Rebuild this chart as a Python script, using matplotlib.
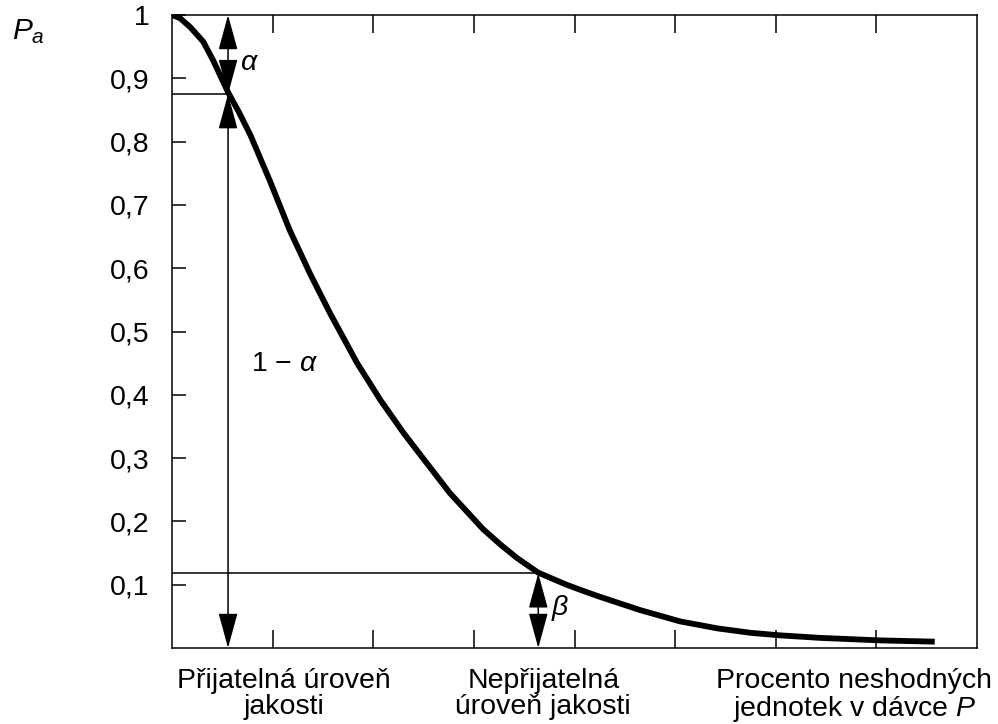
import matplotlib
matplotlib.use("Agg")
import matplotlib.pyplot as plt

plt.rcParams['font.family'] = ['Liberation Sans', 'DejaVu Sans']
plt.rcParams['mathtext.fontset'] = 'custom'
plt.rcParams['mathtext.rm'] = 'Liberation Sans'
plt.rcParams['mathtext.it'] = 'Liberation Sans:italic'

# OC curve (x in tick units, y = Pa)
curve_x = [0.0, 0.08, 0.18, 0.31, 0.41, 0.557, 0.67, 0.78, 0.97, 1.17, 1.37, 1.57, 1.84,
           2.07, 2.30, 2.44, 2.76, 3.09, 3.26, 3.43, 3.64, 3.92, 4.09, 4.25, 4.65,
           5.05, 5.42, 5.75, 6.04, 6.44, 7.04, 7.58]
curve_y = [1.0, 0.995, 0.981, 0.958, 0.928, 0.878, 0.845, 0.810, 0.739, 0.660, 0.592, 0.529,
           0.450, 0.392, 0.340, 0.311, 0.245, 0.188, 0.164, 0.142, 0.119, 0.100, 0.090, 0.081,
           0.060, 0.042, 0.031, 0.024, 0.020, 0.016, 0.012, 0.010]

aql, pa_aql = 0.557, 0.875
ltpd, pa_ltpd = 3.64, 0.118

y_ticks = [0.1, 0.2, 0.3, 0.4, 0.5, 0.6, 0.7, 0.8, 0.9, 1.0]
y_labels = ['0,1', '0,2', '0,3', '0,4', '0,5', '0,6', '0,7', '0,8', '0,9', '1']
x_ticks = [1, 2, 3, 4, 5, 6, 7]

fs = 20.5

fig = plt.figure(figsize=(9.98, 7.24), dpi=100)
ax = fig.add_axes([172 / 998, 1 - 648 / 724, 805 / 998, 633 / 724])

ax.plot(curve_x, curve_y, color='black', lw=4.2, solid_joinstyle='round',
        solid_capstyle='butt')

# reference lines
ax.plot([0, aql], [pa_aql, pa_aql], color='black', lw=1.1)
ax.plot([0, ltpd], [pa_ltpd, pa_ltpd], color='black', lw=1.1)

arrow = dict(arrowstyle='<|-|>,head_length=2.2,head_width=0.6', color='black',
             lw=1.1, mutation_scale=10, shrinkA=0, shrinkB=0)
ax.annotate('', xy=(aql, 1.0), xytext=(aql, pa_aql), arrowprops=arrow)
ax.annotate('', xy=(aql, pa_aql), xytext=(aql, 0.0), arrowprops=arrow)
ax.annotate('', xy=(ltpd, pa_ltpd), xytext=(ltpd, 0.0), arrowprops=arrow)

ax.text(0.68, 0.924, r'$\alpha$', fontsize=fs, ha='left', va='center')
ax.text(0.79, 0.448, r'1 − $\alpha$', fontsize=fs, ha='left', va='center')
ax.text(3.77, 0.063, r'$\beta$', fontsize=fs, ha='left', va='center')

ax.set_xlim(0, 8)
ax.set_ylim(0, 1)
ax.set_yticks(y_ticks)
ax.set_yticklabels(y_labels)
ax.set_xticks(x_ticks)
ax.set_xticklabels([])
ax.tick_params(axis='y', direction='in', length=10, width=1.1, pad=16, labelsize=fs)
ax.tick_params(axis='x', direction='in', length=13, width=1.1, top=True, bottom=True)
for s in ax.spines.values():
    s.set_linewidth(1.1)

# x-axis captions
cap = dict(fontsize=fs, ha='center', va='top', linespacing=1.0)
ax.text(1.11, -0.031, 'Přijatelná úroveň\njakosti', **cap)
ax.text(3.69, -0.031, 'Nepřijatelná\núroveň jakosti', **cap)
ax.text(6.78, -0.031, 'Procento neshodných\njednotek v dávce $P$', **cap)

fig.text(12 / 998, 1 - 32 / 724, r'$P_a$', fontsize=fs + 1, ha='left', va='center')

fig.savefig('out.png', dpi=100)
